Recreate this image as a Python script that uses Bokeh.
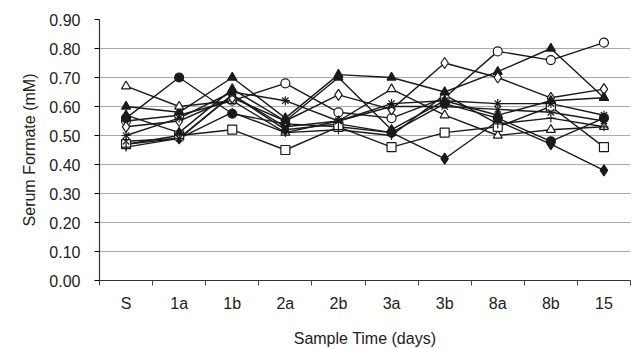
from bokeh.plotting import figure
from bokeh.models import Range1d, FixedTicker, NumeralTickFormatter
from bokeh.embed import file_html
from bokeh.resources import INLINE

categories = ["S", "1a", "1b", "2a", "2b", "3a", "3b", "8a", "8b", "15"]

open_circle = [0.55, 0.57, 0.62, 0.68, 0.58, 0.56, 0.63, 0.79, 0.76, 0.82]
filled_triangle = [0.60, 0.58, 0.70, 0.56, 0.71, 0.70, 0.65, 0.72, 0.80, 0.63]
open_triangle = [0.67, 0.60, 0.62, 0.51, 0.55, 0.66, 0.57, 0.50, 0.52, 0.53]
filled_circle = [0.56, 0.70, 0.575, 0.54, 0.53, 0.51, 0.61, 0.56, 0.48, 0.56]
filled_diamond = [0.47, 0.49, 0.64, 0.52, 0.54, 0.51, 0.42, 0.55, 0.47, 0.38]
open_diamond = [0.53, 0.55, 0.63, 0.55, 0.64, 0.59, 0.75, 0.70, 0.63, 0.66]
open_square = [0.47, 0.50, 0.52, 0.45, 0.53, 0.46, 0.51, 0.53, 0.60, 0.46]
star = [0.50, 0.56, 0.65, 0.62, 0.55, 0.61, 0.62, 0.61, 0.61, 0.57]
cross_x = [0.48, 0.49, 0.64, 0.53, 0.55, 0.60, 0.60, 0.59, 0.58, 0.55]
filled_triangle2 = [0.57, 0.51, 0.66, 0.55, 0.70, 0.52, 0.62, 0.57, 0.62, 0.63]
plus_series = [0.46, 0.49, 0.58, 0.51, 0.52, 0.50, 0.64, 0.54, 0.56, 0.53]

series = [
    (open_circle, "circle", "white"),
    (filled_triangle, "triangle", "#1a1a1a"),
    (open_triangle, "triangle", "white"),
    (filled_circle, "circle", "#1a1a1a"),
    (filled_diamond, "diamond", "#1a1a1a"),
    (open_diamond, "diamond", "white"),
    (open_square, "square", "white"),
    (star, "asterisk", "#1a1a1a"),
    (cross_x, "x", "#1a1a1a"),
    (filled_triangle2, "triangle", "#1a1a1a"),
    (plus_series, "cross", "#1a1a1a"),
]

xs = list(range(len(categories)))

p = figure(width=633, height=349, output_backend="svg", toolbar_location=None,
           x_range=Range1d(-0.5, len(categories) - 0.5), y_range=Range1d(0, 0.9),
           min_border_left=99, min_border_right=3, min_border_top=19, min_border_bottom=60)
p.outline_line_color = None
p.background_fill_color = "white"

for vals, marker, fill in series:
    p.line(xs, vals, line_color="#1a1a1a", line_width=1.4)
for vals, marker, fill in series:
    size = 11 if marker in ("diamond",) else 9
    p.scatter(xs, vals, marker=marker, size=size, fill_color=fill,
              line_color="#1a1a1a", line_width=1.2)

# x axis
p.xaxis.ticker = FixedTicker(ticks=xs, minor_ticks=[i - 0.5 for i in range(len(categories) + 1)])
p.xaxis.major_label_overrides = {i: c for i, c in enumerate(categories)}
p.xaxis.major_tick_line_color = None
p.xaxis.major_tick_out = 5
p.xaxis.major_tick_in = 0
p.xaxis.minor_tick_line_color = "#444444"
p.xaxis.minor_tick_out = 5
p.xaxis.minor_tick_in = 0
p.xaxis.axis_label = "Sample Time (days)"
p.xgrid.grid_line_color = None

# y axis
p.yaxis.ticker = FixedTicker(ticks=[i / 10 for i in range(10)])
p.yaxis.formatter = NumeralTickFormatter(format="0.00")
p.yaxis.axis_label = "Serum Formate (mM)"
p.yaxis.major_tick_out = 5
p.yaxis.major_tick_in = 0
p.yaxis.minor_tick_line_color = None
p.ygrid.grid_line_color = "#aaaaaa"
p.ygrid.grid_line_width = 1

for ax in (p.xaxis, p.yaxis):
    ax.axis_line_color = "#333333"
    ax.axis_line_width = 1.2
    ax.major_label_text_font = "Liberation Sans"
    ax.major_label_text_font_size = "16px"
    ax.major_label_text_color = "#222222"
    ax.axis_label_text_font = "Liberation Sans"
    ax.axis_label_text_font_size = "16px"
    ax.axis_label_text_font_style = "normal"
    ax.axis_label_text_color = "#222222"
p.xaxis.major_label_standoff = 9
p.xaxis.axis_label_standoff = 15
p.yaxis.major_label_standoff = 14
p.yaxis.axis_label_standoff = 8

open("out.html", "w").write(file_html(p, INLINE))
